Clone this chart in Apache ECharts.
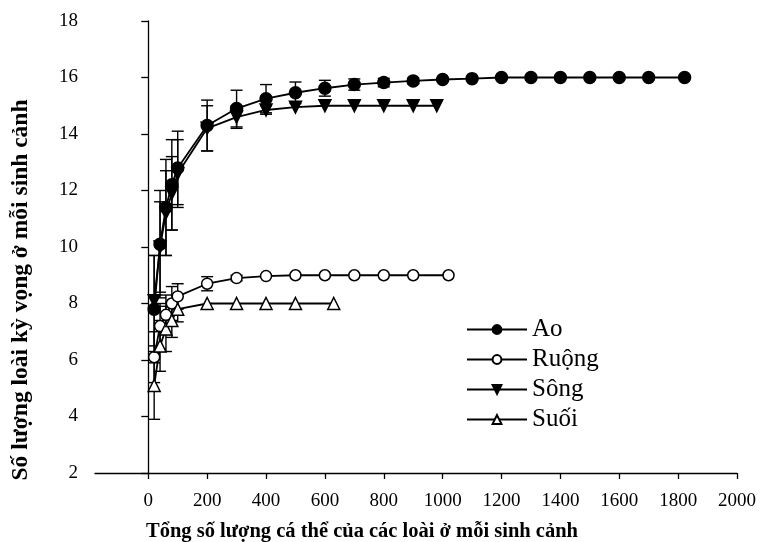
<!DOCTYPE html>
<html>
<head>
<meta charset="utf-8">
<script src="https://cdn.jsdelivr.net/npm/echarts@6/dist/echarts.min.js"></script>
<style>html,body{margin:0;padding:0;background:#fff;}#c{width:760px;height:542px;}</style>
</head>
<body>
<div id="c"></div>
<script>
// ---- data ----
const xTickValues = [0,200,400,600,800,1000,1200,1400,1600,1800,2000];
const seriesNames = ['Ao','Ruộng','Sông','Suối'];

const aoX   = [20,40,60,80,100,200,300,400,500,600,700,800,900,1000,1100,1200,1300,1400,1500,1600,1700,1822];
const aoY   = [7.8,10.1,11.4,12.2,12.8,14.3,14.9,15.25,15.46,15.62,15.75,15.82,15.88,15.93,15.96,16,16,16,16,16,16,16];
const aoErr = [1.9,1.9,1.7,1.6,1.3,0.9,0.65,0.5,0.38,0.28,0.2,0.15,0.1,0.05,0,0,0,0,0,0,0,0];

const ruongX   = [20,40,60,80,100,200,300,400,500,600,700,800,900,1020];
const ruongY   = [6.1,7.2,7.6,8.0,8.25,8.7,8.9,8.97,9,9,9,9,9,9];
const ruongErr = [0.9,0.8,0.7,0.6,0.45,0.25,0.1,0,0,0,0,0,0,0];

const songX   = [20,40,60,80,100,200,300,400,500,600,700,800,900,980];
const songY   = [8.1,10.0,11.2,11.9,12.6,14.2,14.6,14.85,14.95,15,15,15,15,15];
const songErr = [1.6,1.6,1.5,1.3,1.2,0.8,0.4,0.15,0,0,0,0,0,0];

const suoiX   = [20,40,60,80,100,200,300,400,500,630];
const suoiY   = [5.1,6.5,7.1,7.4,7.8,8.0,8,8,8,8];
const suoiErr = [1.2,0.9,0.8,0.6,0.45,0,0,0,0,0];

// ---- build ----
const FONT = '"Liberation Serif","Times New Roman",serif';
function pts(xs, ys){ return xs.map((x,i)=>[x, ys[i]]); }
function errPts(xs, ys, es){ return xs.map((x,i)=>[x, ys[i], es[i]]); }

function errSeries(name, xs, ys, es){
  return {
    name: name, type: 'custom', z: 1, silent: true,
    encode: {x: 0, y: 1},
    data: errPts(xs, ys, es),
    renderItem: function(params, api){
      const x = api.value(0), y = api.value(1), e = api.value(2);
      if (!e) return null;
      const t = api.coord([x, y + e]);
      const b = api.coord([x, y - e]);
      const w = 6;
      const st = {stroke: '#000', lineWidth: 1.4};
      return {type: 'group', children: [
        {type: 'line', shape: {x1: t[0], y1: t[1], x2: b[0], y2: b[1]}, style: st},
        {type: 'line', shape: {x1: t[0]-w, y1: t[1], x2: t[0]+w, y2: t[1]}, style: st},
        {type: 'line', shape: {x1: b[0]-w, y1: b[1], x2: b[0]+w, y2: b[1]}, style: st}
      ]};
    }
  };
}

function lineSeries(name, xs, ys, symbol, size, filled, rotate){
  return {
    name: name, type: 'line', z: 3,
    data: pts(xs, ys),
    symbol: symbol, symbolSize: size, symbolRotate: rotate || 0,
    showAllSymbol: true,
    lineStyle: {color: '#000', width: 1.8},
    itemStyle: {color: filled ? '#000' : '#fff', borderColor: '#000', borderWidth: 1.5},
    emphasis: {disabled: true}
  };
}

const chart = echarts.init(document.getElementById('c'), null, {renderer: 'canvas'});
chart.setOption({
  animation: false,
  backgroundColor: '#fff',
  grid: {left: 95, right: 23, top: 21, bottom: 69, containLabel: false, outerBoundsMode: 'none'},
  legend: {
    data: seriesNames,
    orient: 'vertical',
    left: 461, top: 312,
    itemWidth: 60, itemHeight: 11, itemGap: 5,
    textStyle: {fontFamily: FONT, fontSize: 25, color: '#000'}
  },
  xAxis: {
    type: 'value', min: -181, max: 2000,
    splitLine: {show: false},
    axisLine: {lineStyle: {color: '#000', width: 1.3}},
    axisTick: {show: true, length: 6, customValues: xTickValues, lineStyle: {color: '#000', width: 1.3}},
    axisLabel: {customValues: xTickValues, margin: 19, fontFamily: FONT, fontSize: 19, color: '#000',
      formatter: function(v){ return String(v); }},
    name: 'Tổng số lượng cá thể của các loài ở mỗi sinh cảnh',
    nameLocation: 'middle', nameGap: 48,
    nameTextStyle: {fontFamily: FONT, fontSize: 20.5, fontWeight: 'bold', color: '#000', padding: [0, 108, 0, 0]}
  },
  yAxis: {
    type: 'value', min: 2, max: 18, interval: 2,
    splitLine: {show: false},
    axisLine: {show: true, lineStyle: {color: '#000', width: 1.3}},
    axisTick: {show: true, length: 7, lineStyle: {color: '#000', width: 1.3}},
    axisLabel: {margin: 17, fontFamily: FONT, fontSize: 19, color: '#000'},
    name: 'Số lượng loài kỳ vọng ở mỗi sinh cảnh',
    nameLocation: 'middle', nameGap: 62,
    nameTextStyle: {fontFamily: FONT, fontSize: 23.5, fontWeight: 'bold', color: '#000', padding: [0, 86, 0, 0]}
  },
  series: [
    errSeries('Ao_err', aoX, aoY, aoErr),
    errSeries('Ruộng_err', ruongX, ruongY, ruongErr),
    errSeries('Sông_err', songX, songY, songErr),
    errSeries('Suối_err', suoiX, suoiY, suoiErr),
    lineSeries('Ao', aoX, aoY, 'circle', 12, true),
    lineSeries('Ruộng', ruongX, ruongY, 'circle', 11, false),
    lineSeries('Sông', songX, songY, 'triangle', 12, true, 180),
    lineSeries('Suối', suoiX, suoiY, 'triangle', 12, false)
  ]
});
</script>
</body>
</html>
